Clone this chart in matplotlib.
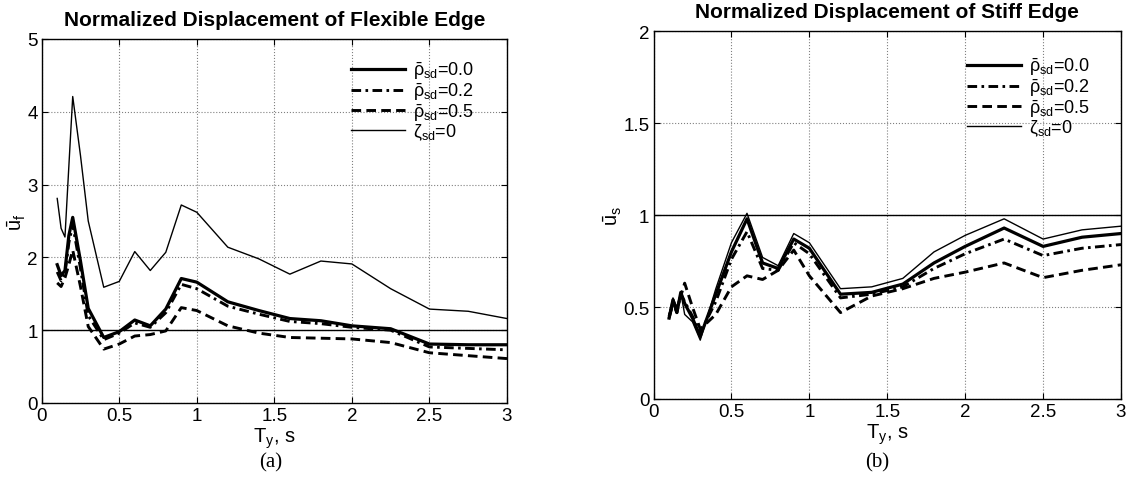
import matplotlib
matplotlib.use("Agg")
import matplotlib.pyplot as plt
import numpy as np

plt.rcParams['font.family'] = ['Liberation Sans', 'DejaVu Sans']
plt.rcParams['mathtext.fontset'] = 'custom'
plt.rcParams['mathtext.rm'] = 'Liberation Sans'
plt.rcParams['mathtext.it'] = 'Liberation Sans:italic'
plt.rcParams['mathtext.bf'] = 'Liberation Sans:bold'

# yield period of the system, s
period = [0.1, 0.125, 0.15, 0.175, 0.2, 0.25, 0.3, 0.4, 0.5, 0.6, 0.7, 0.8,
          0.9, 1.0, 1.2, 1.4, 1.6, 1.8, 2.0, 2.25, 2.5, 2.75, 3.0]

# (a) flexible edge
flex_rho00 = [1.90, 1.75, 1.82, 2.30, 2.55, 1.95, 1.30, 0.90, 0.98, 1.14, 1.06, 1.29,
              1.71, 1.66, 1.39, 1.27, 1.16, 1.13, 1.06, 1.02, 0.81, 0.80, 0.80]
flex_rho02 = [1.80, 1.68, 1.78, 2.20, 2.45, 1.85, 1.20, 0.87, 0.96, 1.10, 1.04, 1.24,
              1.63, 1.57, 1.33, 1.22, 1.12, 1.09, 1.04, 1.00, 0.77, 0.75, 0.73]
flex_rho05 = [1.65, 1.60, 1.72, 1.90, 2.10, 1.60, 1.05, 0.74, 0.81, 0.92, 0.94, 0.99,
              1.31, 1.27, 1.06, 0.96, 0.90, 0.89, 0.88, 0.83, 0.69, 0.65, 0.61]
flex_zeta0 = [2.81, 2.40, 2.28, 3.25, 4.21, 3.40, 2.50, 1.59, 1.67, 2.08, 1.82, 2.07,
              2.72, 2.62, 2.14, 1.98, 1.77, 1.95, 1.91, 1.57, 1.29, 1.26, 1.16]

# (b) stiff edge
stiff_rho00 = [0.44, 0.54, 0.47, 0.58, 0.52, 0.44, 0.34, 0.57, 0.80, 0.98, 0.74, 0.71,
               0.87, 0.82, 0.57, 0.58, 0.625, 0.74, 0.83, 0.93, 0.83, 0.88, 0.90]
stiff_rho02 = [0.44, 0.52, 0.47, 0.57, 0.53, 0.45, 0.36, 0.53, 0.76, 0.91, 0.71, 0.70,
               0.85, 0.79, 0.55, 0.57, 0.61, 0.71, 0.79, 0.87, 0.78, 0.82, 0.84]
stiff_rho05 = [0.45, 0.52, 0.49, 0.56, 0.63, 0.50, 0.38, 0.46, 0.61, 0.67, 0.65, 0.70,
               0.81, 0.67, 0.47, 0.56, 0.60, 0.656, 0.69, 0.74, 0.66, 0.70, 0.73]
stiff_zeta0 = [0.46, 0.55, 0.50, 0.58, 0.46, 0.42, 0.32, 0.60, 0.85, 1.01, 0.77, 0.725,
               0.90, 0.85, 0.60, 0.61, 0.656, 0.80, 0.89, 0.98, 0.87, 0.92, 0.94]

ref_level = 1.0
labels = [r'$\bar{\mathrm{\rho}}_{\mathrm{sd}}$=0.0', r'$\bar{\mathrm{\rho}}_{\mathrm{sd}}$=0.2',
          r'$\bar{\mathrm{\rho}}_{\mathrm{sd}}$=0.5', r'$\mathrm{\zeta}_{\mathrm{sd}}$=0']

W, H = 1136, 481
fig = plt.figure(figsize=(W / 100, H / 100), dpi=100)
ax1 = fig.add_axes([41.7 / W, 1 - 404 / H, (507 - 41.7) / W, (404 - 40) / H])
ax2 = fig.add_axes([653.5 / W, 1 - 400 / H, (1121 - 653.5) / W, (400 - 32.3) / H])

styles = [dict(color='black', lw=2.3, ls='-'),
          dict(color='black', lw=2.1, ls=(0, (3.3, 1.5, 0.9, 1.5))),
          dict(color='black', lw=2.1, ls=(0, (3.3, 1.8))),
          dict(color='black', lw=1.0, ls='-')]


def draw_panel(ax, series, ymax, yticks, title, ylab, ylab_x, leg_xy, caption, cap_x):
    for y, st, lab in zip(series, styles, labels):
        ax.plot(period, y, label=lab, **st)
    ax.axhline(ref_level, color='black', lw=1.0)
    ax.set_xlim(0, 3)
    ax.set_ylim(0, ymax)
    ax.set_xticks(np.arange(0, 3.01, 0.5))
    ax.set_xticklabels(['0', '0.5', '1', '1.5', '2', '2.5', '3'])
    ax.set_yticks(yticks)
    ax.set_yticklabels(['%g' % t for t in yticks])
    ax.grid(True, ls=':', color='0.5', lw=0.8)
    ax.tick_params(direction='in', top=True, right=True, labelsize=13.5, length=4, pad=3)
    for s in ax.spines.values():
        s.set_linewidth(1.0)
    ax.set_title(title, fontsize=15, fontweight='bold', pad=10)
    ax.set_xlabel(r'$\mathrm{T_y}$, s', fontsize=14.5, labelpad=1)
    ax.set_ylabel(ylab, fontsize=14.5)
    ax.yaxis.set_label_coords(ylab_x, 0.5)
    ax.legend(loc='upper left', bbox_to_anchor=leg_xy, bbox_transform=fig.transFigure,
              frameon=False, fontsize=13, handlelength=3.0, handletextpad=0.45,
              labelspacing=-0.05, borderpad=0, borderaxespad=0)
    fig.text(cap_x, 1 - 463 / H, caption, ha='center', va='center',
             family='Liberation Serif', fontsize=15)


draw_panel(ax1, [flex_rho00, flex_rho02, flex_rho05, flex_zeta0], 5, [0, 1, 2, 3, 4, 5],
           'Normalized Displacement of Flexible Edge', r'$\mathrm{\bar{u}_f}$', -0.03,
           (351 / W, 1 - 61 / H), '(a)', 271 / W)
draw_panel(ax2, [stiff_rho00, stiff_rho02, stiff_rho05, stiff_zeta0], 2,
           [0, 0.5, 1, 1.5, 2],
           'Normalized Displacement of Stiff Edge', r'$\mathrm{\bar{u}_s}$', -0.064,
           (966.7 / W, 1 - 57 / H), '(b)', 877 / W)

fig.savefig('out.png', dpi=100)
